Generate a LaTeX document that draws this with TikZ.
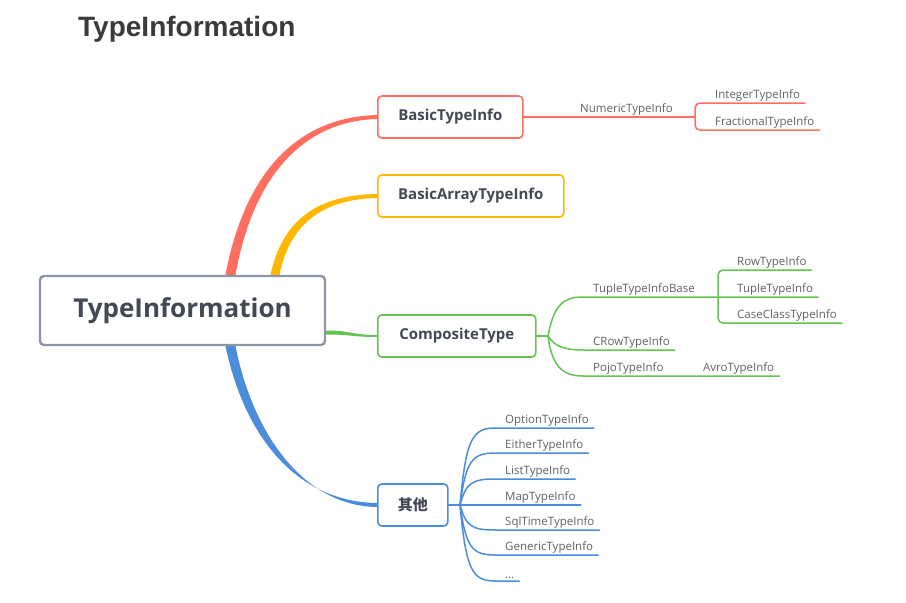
\documentclass[tikz,border=0pt]{standalone}
\usepackage{fontspec}
\setmainfont{Open Sans}
\newfontfamily\titlefont{Liberation Sans}
\newfontfamily\cjkfont{Noto Sans CJK SC}
\definecolor{cred}{RGB}{255,110,95}
\definecolor{corange}{RGB}{255,183,0}
\definecolor{cgreen}{RGB}{100,196,82}
\definecolor{cblue}{RGB}{76,140,220}
\definecolor{cframe}{RGB}{140,150,168}
\definecolor{ctopic}{RGB}{66,72,84}
\definecolor{cleaf}{RGB}{96,96,96}
\pgfdeclarelayer{bg}\pgfsetlayers{bg,main}
\tikzset{
  mindmap px/.style={x=1pt,y=-1pt},
  topic/.style={draw=#1,line width=1.6pt,rounded corners=4pt,fill=white,text=ctopic,
    font=\fontsize{15}{18}\selectfont\bfseries,inner sep=0pt,minimum height=42pt,anchor=west},
  leaf/.style={text=cleaf,font=\fontsize{11.5}{13}\selectfont,inner xsep=5pt,inner ysep=2pt,anchor=south west},
  twig/.style={draw=#1,line width=1.5pt,line cap=round,rounded corners=5pt},
}

\begin{document}
\begin{tikzpicture}[mindmap px]
  \useasboundingbox (0,0) rectangle (906,603);
  \node[anchor=base west,inner sep=0pt,text={rgb,255:red,58;green,58;blue,58},
    font=\titlefont\fontsize{28}{32}\selectfont\bfseries] (title) at (78,36) {TypeInformation};

  % central topic and main topics
  \node[draw=cframe,line width=2.4pt,rounded corners=4pt,fill=white,text=ctopic,
    font=\fontsize{26}{30}\selectfont\bfseries,minimum width=285pt,minimum height=69pt] (root) at (182.5,310.5) {TypeInformation};
  \node[topic=cred,minimum width=145pt] (basic) at (377,117) {BasicTypeInfo};
  \node[topic=corange,minimum width=186pt] (array) at (377,196) {BasicArrayTypeInfo};
  \node[topic=cgreen,minimum width=158pt] (comp) at (377,336) {CompositeType};
  \node[topic=cblue,minimum width=70pt] (other) at (377,505) {\cjkfont 其他};

  \begin{pgfonlayer}{bg}
    \fill[cred] ([xshift=43pt]root.north) .. controls +(20,-106) and +(-77,2) .. ([yshift=2pt]basic.west)
      -- ([yshift=-2pt]basic.west) .. controls +(-72,2) and +(18,-101) .. ([xshift=53pt]root.north) -- cycle;
    \fill[corange] ([xshift=88pt]root.north) .. controls +(12,-55) and +(-60,1) .. ([yshift=2pt]array.west)
      -- ([yshift=-2pt]array.west) .. controls +(-55,1) and +(10,-50) .. ([xshift=97pt]root.north) -- cycle;
    \fill[cgreen] ([yshift=-20pt]root.east) .. controls +(25,0) and +(-25,0) .. ([yshift=1pt]comp.west)
      -- ([yshift=-1pt]comp.west) .. controls +(-25,0) and +(25,0) .. ([yshift=-24pt]root.east) -- cycle;
    \fill[cblue] ([xshift=43pt]root.south) .. controls +(20,95) and +(-77,-1) .. ([yshift=2pt]other.west)
      -- ([yshift=-2pt]other.west) .. controls +(-72,-1) and +(18,90) .. ([xshift=53pt]root.south) -- cycle;
  \end{pgfonlayer}

  % BasicTypeInfo
  \coordinate (nj) at (695,117);
  \node[leaf] (numeric) at (575,117) {NumericTypeInfo};
  \node[leaf] (integer) at (710,103) {IntegerTypeInfo};
  \node[leaf] (fractional) at (710,130) {FractionalTypeInfo};
  \draw[twig=cred] (basic.east) -- (nj);
  \draw[twig=cred] (integer.south east) -- (integer.south west -| nj) -- (fractional.south west -| nj) -- (fractional.south east);

  % CompositeType
  \coordinate (cj) at (548,336);
  \coordinate (tj) at (718,297);
  \node[leaf] (tuplebase) at (588,297) {TupleTypeInfoBase};
  \node[leaf] (row) at (732,270) {RowTypeInfo};
  \node[leaf] (tuple) at (732,297) {TupleTypeInfo};
  \node[leaf] (caseclass) at (732,323) {CaseClassTypeInfo};
  \node[leaf] (crow) at (588,350) {CRowTypeInfo};
  \node[leaf] (pojo) at (588,376) {PojoTypeInfo};
  \node[leaf] (avro) at (698,376) {AvroTypeInfo};
  \draw[twig=cgreen] (comp.east) -- (cj);
  \draw[twig=cgreen] (cj) .. controls +(6,-32) and +(-24,0) .. (tuplebase.south west) -- (tuple.south east);
  \draw[twig=cgreen] (row.south east) -- (row.south west -| tj) -- (caseclass.south west -| tj) -- (caseclass.south east);
  \draw[twig=cgreen] (cj) .. controls +(6,10) and +(-24,0) .. (crow.south west) -- (crow.south east);
  \draw[twig=cgreen] (cj) .. controls +(4,32) and +(-24,0) .. (pojo.south west) -- (avro.south east);

  % other
  \coordinate (oj) at (460,505);
  \draw[twig=cblue] (other.east) -- (oj);
  \foreach \name/\txt/\yy in {option/OptionTypeInfo/428,either/EitherTypeInfo/453,list/ListTypeInfo/479,
      map/MapTypeInfo/505,sqltime/SqlTimeTypeInfo/530,generic/GenericTypeInfo/555,more/{\dots}/581} {
    \node[leaf] (\name) at (500,\yy) {\txt};
    \draw[twig=cblue] (oj) .. controls +(6,{0.85*(\yy-505)}) and +(-28,0) .. (\name.south west) -- (\name.south east);
  }
\end{tikzpicture}
\end{document}
